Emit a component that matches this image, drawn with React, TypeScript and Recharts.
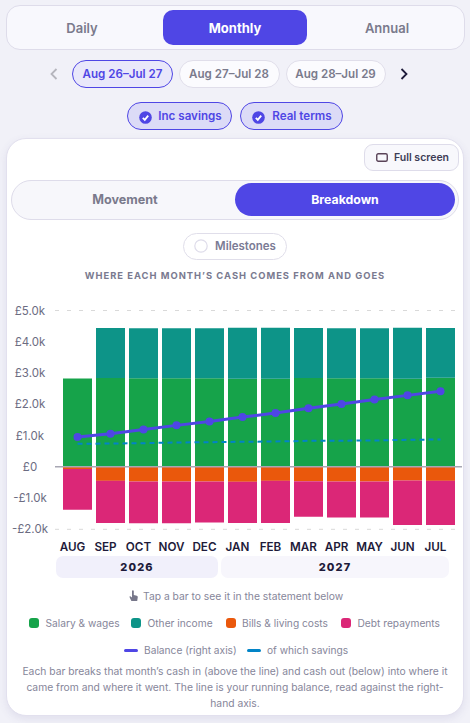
import React from "react";
import { ComposedChart, Bar, Line, XAxis, YAxis, CartesianGrid, ReferenceLine } from "recharts";

const months = ["AUG", "SEP", "OCT", "NOV", "DEC", "JAN", "FEB", "MAR", "APR", "MAY", "JUN", "JUL"];
const salary = [2825, 2840, 2835, 2830, 2830, 2815, 2815, 2840, 2835, 2830, 2820, 2850];
const otherIncome = [0, 1600, 1600, 1600, 1600, 1630, 1630, 1600, 1600, 1600, 1630, 1590];
const bills = [-70, -450, -470, -470, -470, -480, -450, -460, -470, -470, -440, -450];
const debt = [-1305, -1350, -1340, -1340, -1310, -1320, -1350, -1140, -1150, -1150, -1420, -1410];
const balance = [950, 1060, 1195, 1325, 1450, 1590, 1720, 1870, 2010, 2150, 2285, 2415];
const savings = [735, 745, 755, 777, 787, 800, 810, 830, 835, 841, 864, 873];
const yTicks = [-2000, -1000, 0, 1000, 2000, 3000, 4000, 5000];

const rows = months.map((m, i) => ({
  month: m,
  salary: salary[i],
  otherIncome: otherIncome[i],
  bills: bills[i],
  debt: debt[i],
  balance: balance[i],
  savings: savings[i],
}));

const INDIGO = "#4f46e5";
const font = "Inter, sans-serif";
const GREY = "#7a7a8c";

const fmt = (v: number) => (v === 0 ? "£0" : `${v < 0 ? "-" : ""}£${(Math.abs(v) / 1000).toFixed(1)}k`);

const YTick = ({ y, payload }: any) => (
  <text x={30} y={y} dy={4} textAnchor="middle" fontSize={11.5} fill="#6c6c82" fontFamily={font}>
    {fmt(payload.value)}
  </text>
);

const XTick = ({ x, payload }: any) => (
  <text x={x - 5} y={251} textAnchor="middle" fontSize={11.7} fontWeight={600} fill="#1e1b3a" fontFamily={font}>
    {payload.value}
  </text>
);

const ZeroLine = ({ x1, y1, y2 }: any) => (
  <line x1={x1} y1={y1} x2={x1 + 407} y2={y2} stroke="#a8a7b3" strokeWidth={1.5} />
);

const Box = ({ x, y, w, h, style, children }: any) => (
  <div
    style={{
      position: "absolute",
      left: x,
      top: y,
      width: w,
      height: h,
      boxSizing: "border-box",
      display: "flex",
      alignItems: "center",
      justifyContent: "center",
      whiteSpace: "nowrap",
      ...style,
    }}
  >
    {children}
  </div>
);

const Check = ({ x, y }: any) => (
  <svg style={{ position: "absolute", left: x, top: y }} width={13} height={13} viewBox="0 0 13 13">
    <circle cx={6.5} cy={6.5} r={6.3} fill={INDIGO} />
    <polyline points="3.8,6.8 5.8,8.8 9.2,4.6" fill="none" stroke="#fff" strokeWidth={1.8} />
  </svg>
);

const legendSwatches = [
  { label: "Salary & wages", color: "#16a34a", x: 29, tx: 45.5 },
  { label: "Other income", color: "#0d9488", x: 131, tx: 147.5 },
  { label: "Bills & living costs", color: "#ea580c", x: 226, tx: 242 },
  { label: "Debt repayments", color: "#db2777", x: 341, tx: 357.5 },
];
const legendLines = [
  { label: "Balance (right axis)", color: INDIGO, x: 124, tx: 144 },
  { label: "of which savings", color: "#0284c7", x: 247, tx: 267 },
];

const pill = { borderRadius: 14, fontFamily: font, fontSize: 11.6, fontWeight: 600 };

export default function App() {
  return (
    <div style={{ position: "absolute", left: 0, top: 0, width: 470, height: 723, background: "#f1f1f8", fontFamily: font, overflow: "hidden" }}>
      <Box x={5.5} y={5} w={459} h={45} style={{ background: "#f8f8fd", border: "1px solid #dedcea", borderRadius: 14 }} />
      <Box x={163} y={10} w={144} h={35} style={{ background: INDIGO, borderRadius: 10, color: "#fff", fontSize: 13, fontWeight: 700 }}>Monthly</Box>
      <Box x={22} y={10} w={120} h={35} style={{ color: GREY, fontSize: 13, fontWeight: 600 }}>Daily</Box>
      <Box x={327} y={10} w={120} h={35} style={{ color: GREY, fontSize: 13, fontWeight: 600 }}>Annual</Box>

      <svg style={{ position: "absolute", left: 48, top: 68 }} width={12} height={12}>
        <polyline points="8.5,1 3.5,6 8.5,11" fill="none" stroke="#b5b5bd" strokeWidth={1.8} />
      </svg>
      <Box x={72} y={60} w={101} h={28} style={{ ...pill, background: "#e9e8fa", border: `1px solid ${INDIGO}`, color: INDIGO }}>Aug 26–Jul 27</Box>
      <Box x={178.5} y={60} w={101} h={28} style={{ ...pill, background: "#fbfbfe", border: "1px solid #e0deea", color: GREY }}>Aug 27–Jul 28</Box>
      <Box x={285.5} y={60} w={100} h={28} style={{ ...pill, background: "#fbfbfe", border: "1px solid #e0deea", color: GREY }}>Aug 28–Jul 29</Box>
      <svg style={{ position: "absolute", left: 398, top: 68 }} width={12} height={12}>
        <polyline points="3.5,1 8.5,6 3.5,11" fill="none" stroke="#1e1b3a" strokeWidth={1.8} />
      </svg>

      <Box x={127} y={102} w={105} h={28} style={{ ...pill, background: "#dcdbf7", border: `1px solid ${INDIGO}`, color: INDIGO, paddingLeft: 21 }}>Inc savings</Box>
      <Check x={139} y={110.5} />
      <Box x={240} y={102} w={103} h={28} style={{ ...pill, background: "#dcdbf7", border: `1px solid ${INDIGO}`, color: INDIGO, paddingLeft: 21 }}>Real terms</Box>
      <Check x={252} y={110.5} />

      <Box x={6} y={138} w={458} h={578} style={{ background: "#fff", border: "1px solid #e2e0ee", borderRadius: 20, boxShadow: "0 3px 8px rgba(80,70,140,0.10)" }} />

      <Box x={364} y={144} w={95} h={27} style={{ background: "#f8f8fc", border: "1px solid #dedcea", borderRadius: 9, color: "#3d3d56", fontSize: 10.5, fontWeight: 600, paddingLeft: 20 }}>Full screen</Box>
      <svg style={{ position: "absolute", left: 376, top: 153 }} width={12} height={9}>
        <rect x={0.75} y={0.75} width={10.5} height={7.5} rx={1.5} fill="none" stroke="#5a4458" strokeWidth={1.4} />
      </svg>

      <Box x={11} y={179.5} w={448} h={40} style={{ background: "#f7f7fb", border: "1px solid #dedcea", borderRadius: 20 }} />
      <Box x={15} y={183} w={220} h={33} style={{ color: GREY, fontSize: 12.6, fontWeight: 700 }}>Movement</Box>
      <Box x={235} y={183} w={220} h={33} style={{ background: INDIGO, borderRadius: 17, color: "#fff", fontSize: 12.3, fontWeight: 700 }}>Breakdown</Box>

      <Box x={183} y={232.5} w={104} h={27} style={{ background: "#fff", border: "1px solid #e0deea", borderRadius: 14, color: "#7b7b95", fontSize: 11.5, fontWeight: 600, paddingLeft: 21 }}>Milestones</Box>
      <svg style={{ position: "absolute", left: 194, top: 239 }} width={14} height={14}>
        <circle cx={7} cy={7} r={6.2} fill="none" stroke="#dedcea" strokeWidth={1.2} />
      </svg>

      <Box x={0} y={268} w={470} h={15} style={{ color: "#7a7a90", fontSize: 9.4, fontWeight: 700, letterSpacing: 1 }}>WHERE EACH MONTH’S CASH COMES FROM AND GOES</Box>

      <div style={{ position: "absolute", left: 0, top: 300 }}>
        <ComposedChart
          width={470}
          height={260}
          data={rows}
          stackOffset="sign"
          barSize={29}
          margin={{ top: 10.5, right: 15, bottom: 0, left: 0 }}
        >
          <CartesianGrid vertical={false} strokeDasharray="4 8" stroke="#d9d9d9" />
          <XAxis
            dataKey="month"
            axisLine={false}
            tickLine={false}
            interval={0}
            height={30.7}
            padding={{ left: 6, right: -2 }}
            tick={<XTick />}
          />
          <YAxis yAxisId="left" width={55} domain={[-2000, 5000]} ticks={yTicks} axisLine={false} tickLine={false} tick={<YTick />} />
          <YAxis yAxisId="right" orientation="right" hide domain={[-2000, 5000]} />
          <Bar yAxisId="left" dataKey="salary" stackId="cash" fill="#16a34a" isAnimationActive={false} />
          <Bar yAxisId="left" dataKey="otherIncome" stackId="cash" fill="#0d9488" isAnimationActive={false} />
          <Bar yAxisId="left" dataKey="bills" stackId="cash" fill="#ea580c" isAnimationActive={false} />
          <Bar yAxisId="left" dataKey="debt" stackId="cash" fill="#db2777" isAnimationActive={false} />
          <ReferenceLine yAxisId="left" y={0} shape={<ZeroLine />} />
          <Line yAxisId="right" dataKey="savings" stroke="#0284c7" strokeWidth={2} strokeDasharray="5 4" dot={false} isAnimationActive={false} />
          <Line yAxisId="right" dataKey="balance" stroke={INDIGO} strokeWidth={3} dot={{ r: 4, fill: INDIGO, stroke: INDIGO, strokeWidth: 0 }} isAnimationActive={false} />
        </ComposedChart>
      </div>

      <Box x={56} y={555.5} w={162} h={22} style={{ background: "#f1f0fb", borderRadius: 7, color: "#1e1b3a", fontSize: 11, fontWeight: 800, letterSpacing: 1.1 }}>2026</Box>
      <Box x={221} y={555.5} w={228} h={22} style={{ background: "#f7f6fc", borderRadius: 7, color: "#1e1b3a", fontSize: 11, fontWeight: 800, letterSpacing: 1.1 }}>2027</Box>

      <svg style={{ position: "absolute", left: 129, top: 590 }} width={9} height={12} viewBox="0 0 9 12">
        <path d="M3 1.2a.9.9 0 0 1 1.8 0V5l3 .8c.6.2 1 .7 1 1.3L8.2 11H2.4L.6 7.2c-.3-.7.5-1.2 1-.7L3 7.6z" fill="#77778a" />
      </svg>
      <Box x={143} y={588} w={200} h={16} style={{ color: "#86869a", fontSize: 10.3, justifyContent: "flex-start" }}>Tap a bar to see it in the statement below</Box>

      {legendSwatches.map((s) => (
        <React.Fragment key={s.label}>
          <div style={{ position: "absolute", left: s.x, top: 617.5, width: 10, height: 10, borderRadius: 3, background: s.color }} />
          <Box x={s.tx} y={615} w={100} h={16} style={{ color: "#86869a", fontSize: 10.2, justifyContent: "flex-start" }}>{s.label}</Box>
        </React.Fragment>
      ))}
      {legendLines.map((s) => (
        <React.Fragment key={s.label}>
          <div style={{ position: "absolute", left: s.x, top: 648.5, width: 14, height: 3, borderRadius: 2, background: s.color }} />
          <Box x={s.tx} y={642} w={100} h={16} style={{ color: "#86869a", fontSize: 10.2, justifyContent: "flex-start" }}>{s.label}</Box>
        </React.Fragment>
      ))}

      <div style={{ position: "absolute", left: 10, top: 663, width: 450, textAlign: "center", color: "#86869a", fontSize: 10.3, lineHeight: "16px", whiteSpace: "nowrap" }}>
        Each bar breaks that month’s cash in (above the line) and cash out (below) into where it
        <br />
        came from and where it went. The line is your running balance, read against the right-
        <br />
        hand axis.
      </div>
    </div>
  );
}
